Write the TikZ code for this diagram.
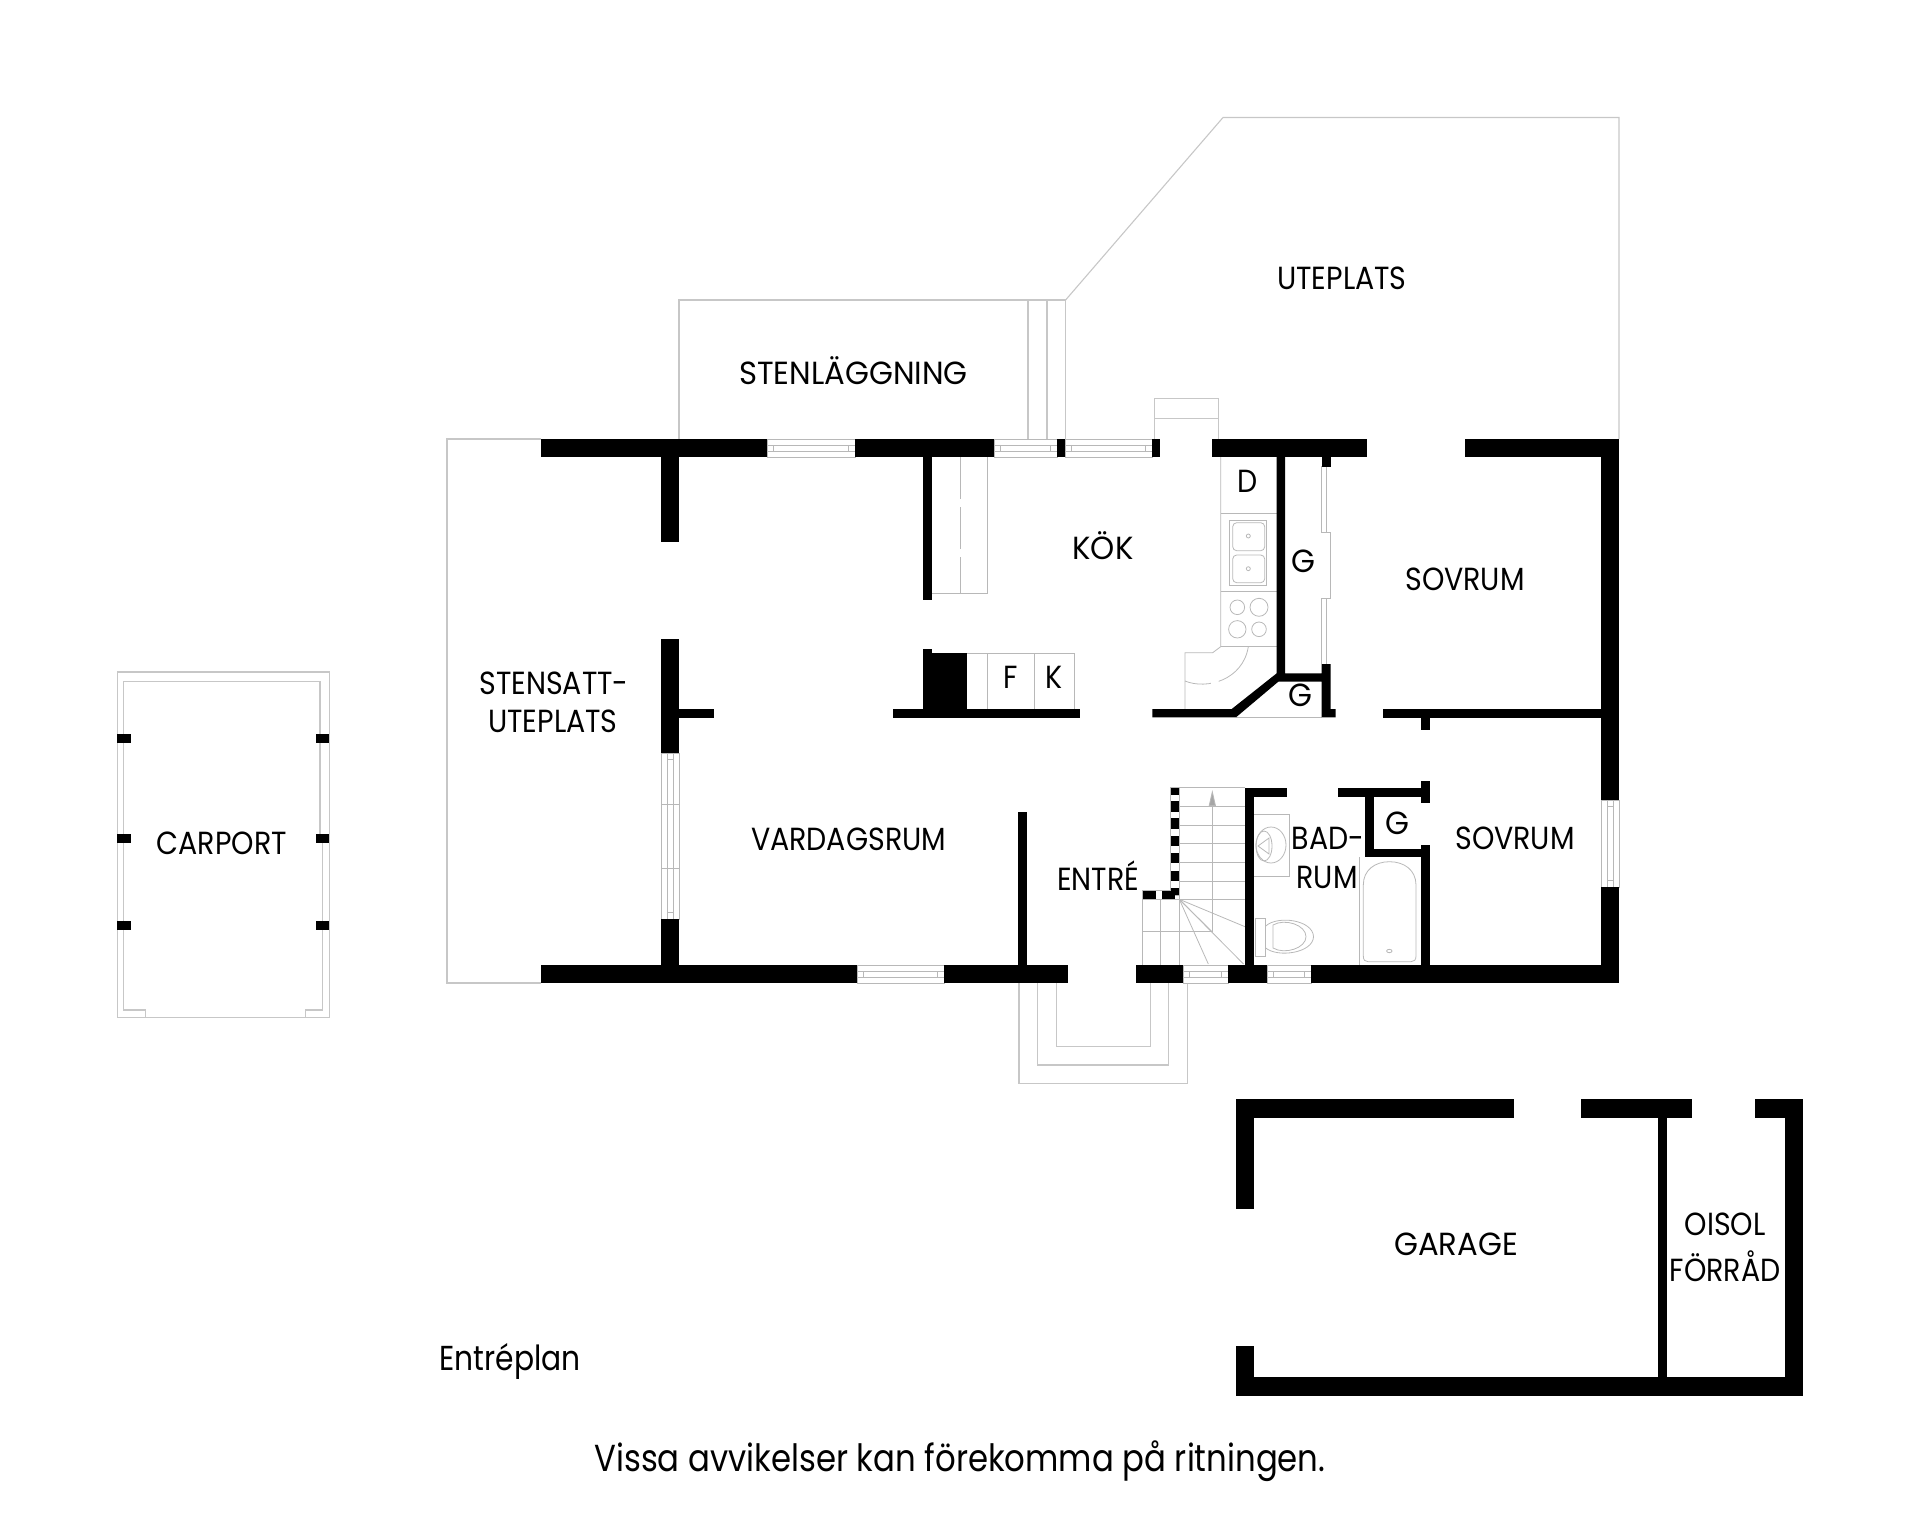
\documentclass[tikz,border=0pt]{standalone}
\usepackage{fontspec}
\setmainfont[FakeStretch=0.89]{Poppins}
\newfontfamily\widefont[FakeStretch=0.96]{Poppins}
\newfontfamily\planfont[FakeStretch=0.86]{Poppins}
\usetikzlibrary{arrows.meta}

\begin{document}
\begin{tikzpicture}[x=0.5pt,y=-0.5pt]

\tikzset{wall/.style = {fill=black}}
\tikzset{thin line/.style = {draw=black!22,line width=0.55pt}}
\tikzset{fine line/.style = {draw=black!28,line width=0.4pt}}
\tikzset{roomlabel/.style = {inner sep=0pt,anchor=base,font=\fontsize{16}{18}\selectfont}}
\tikzset{widelabel/.style = {inner sep=0pt,anchor=base,font=\widefont\fontsize{16}{18}\selectfont}}
\tikzset{planlabel/.style = {inner sep=0pt,anchor=base west,font=\planfont\fontsize{17.3}{20}\selectfont}}
\tikzset{notelabel/.style = {inner sep=0pt,anchor=base west,font=\planfont\fontsize{18.8}{22}\selectfont}}

\useasboundingbox (0,0) rectangle (1920,1513);

%terraces
\draw[thin line] (541,439) -- (447,439) -- (447,983) -- (541,983);
\draw[thin line] (679,439) -- (679,300) -- (1065.6,300) -- (1065.6,439);
\draw[thin line] (1028,300) -- (1028,439);
\draw[thin line] (1047,300) -- (1047,439);
\draw[thin line] (1065.6,300) -- (1223,117.5) -- (1619,117.5) -- (1619,439);
\draw[thin line] (1154.7,439) -- (1154.7,398.3) -- (1218.3,398.3) -- (1218.3,439);
\draw[thin line] (1154.7,418.3) -- (1218.3,418.3);
%porch
\draw[thin line] (1019,983) -- (1019,1083.7) -- (1187.7,1083.7) -- (1187.7,983);
\draw[thin line] (1037.7,983) -- (1037.7,1065) -- (1168.7,1065) -- (1168.7,983);
\draw[thin line] (1056.3,983) -- (1056.3,1046.7) -- (1150.3,1046.7) -- (1150.3,983);
%carport
\draw[thin line] (117.3,672) rectangle (329.3,1017.3);
\draw[thin line] (145.7,1017.3) -- (145.7,1010) -- (123.7,1010) -- (123.7,681.3) -- (320,681.3) -- (320,838) -- (322.7,838) -- (322.7,1010) -- (305.7,1010) -- (305.7,1017.3);
\foreach \ya in {734,834,921}{
  \fill[wall] (117.3,\ya) rectangle (130.7,\ya+8.7);
  \fill[wall] (316,\ya) rectangle (329.3,\ya+8.7);
}
%windows
\foreach \xa/\xb/\ya in {767/855/439,994/1057/439,1065/1152/439,857/944/965,1183/1228/965,1267/1311/965}{
  \draw[fine line] (\xa,\ya) rectangle (\xb,\ya+18.3);
  \draw[fine line] (\xa,\ya+6) -- (\xb,\ya+6);
  \draw[fine line] (\xa,\ya+12.5) -- (\xb,\ya+12.5);
  \draw[fine line] (\xa+6.5,\ya+6) -- (\xa+6.5,\ya+12.5);
  \draw[fine line] (\xb-6.5,\ya+6) -- (\xb-6.5,\ya+12.5);
}
\foreach \xa/\ya/\yb in {661/753/919,1601/800/887}{
  \draw[fine line] (\xa,\ya) rectangle (\xa+18.3,\yb);
  \draw[fine line] (\xa+6,\ya) -- (\xa+6,\yb);
  \draw[fine line] (\xa+12.5,\ya) -- (\xa+12.5,\yb);
  \draw[fine line] (\xa+6,\ya+6.5) -- (\xa+12.5,\ya+6.5);
  \draw[fine line] (\xa+6,\yb-6.5) -- (\xa+12.5,\yb-6.5);
}
\draw[fine line] (661,804) -- (679,804);
\draw[fine line] (661,868) -- (679,868);
%kitchen
\draw[fine line] (932,593.3) -- (987.7,593.3) -- (987.7,457);
\draw[fine line,dash pattern=on 21pt off 4pt] (960,457) -- (960,593.3);
\draw[fine line] (966.5,653) -- (1074.7,653) -- (1074.7,709);
\draw[fine line] (987.7,653) -- (987.7,709);
\draw[fine line] (1034.3,653) -- (1034.3,709);
\draw[fine line] (1220.7,457) -- (1220.7,646.7) -- (1212.7,652.7) -- (1185,652.7) -- (1185,709);
\draw[fine line] (1220.7,513.3) -- (1276.7,513.3);
\draw[fine line] (1220.7,591.7) -- (1276.7,591.7);
\draw[fine line] (1220.7,646) -- (1276.7,646);
\draw[fine line] (1229.7,520.3) rectangle (1266.7,585.3);
\draw[fine line,rounded corners=2pt] (1232.7,522.7) rectangle (1264.7,550.7);
\draw[fine line,rounded corners=2pt] (1232.7,555) rectangle (1264.7,582.7);
\draw[fine line] (1248.3,536) circle (2);
\draw[fine line] (1248.3,568.7) circle (2);
\draw[fine line] (1237.3,607.3) circle (7.3);
\draw[fine line] (1259,607.3) circle (9);
\draw[fine line] (1237.3,629.3) circle (8.7);
\draw[fine line] (1259,629.3) circle (7.3);
\draw[fine line,dash pattern=on 24pt off 4pt] (1248.3,646.7) .. controls (1243,680) and (1206.7,690) .. (1185,681);
\draw[fine line] (1236,717.3) -- (1321.7,717.3);
%closet doors
\draw[fine line] (1321.7,466) -- (1321.7,532.7) -- (1330.7,532.7) -- (1330.7,598) -- (1321.7,598) -- (1321.7,664);
\draw[fine line] (1326,466) -- (1326,532.7);
\draw[fine line] (1326,598) -- (1326,664);
%stairs
\draw[fine line] (1170.7,787.7) rectangle (1179.3,895);
\draw[fine line] (1142.7,890.7) rectangle (1179.3,899.3);
\draw[fine line] (1179.3,787.7) -- (1245,787.7);
\foreach \ya in {806,825,843.3,862.3,881,899.3}{
  \draw[fine line] (1179.3,\ya) -- (1245,\ya);
}
\foreach \xa in {1142.7,1160.7,1179.3}{
  \draw[fine line] (\xa,899.3) -- (\xa,965);
}
\draw[fine line] (1142.7,899.3) -- (1179.3,899.3);
\draw[fine line] (1142.7,931.7) -- (1212,931.7);
\draw[fine line] (1179.3,899.3) -- (1245,926.7);
\draw[fine line] (1179.3,899.3) -- (1212,931.7);
\draw[fine line] (1179.3,899.3) -- (1208.3,964);
\draw[fine line] (1179.3,899.3) -- (1243.5,964);
\draw[fine line,-{Triangle[length=8pt,width=3.5pt,fill=black!35]}] (1212.3,931.7) -- (1212.3,790);
%bathroom
\draw[fine line] (1254.3,814) -- (1289.3,814) -- (1289.3,876.7) -- (1254.3,876.7);
\draw[fine line] (1271,845) ellipse (15 and 18);
\draw[fine line] (1264,846) ellipse (8 and 15);
\draw[fine line] (1258,846) -- (1269,838) -- (1269,854) -- cycle;
\draw[fine line] (1255,918.3) rectangle (1265.7,956.7);
\draw[fine line] (1265.7,926) .. controls (1278,915) and (1313,920) .. (1313.5,936.7) .. controls (1313,953) and (1278,958) .. (1265.7,948);
\draw[fine line] (1273,925) .. controls (1285,918) and (1306,925) .. (1306,936.7) .. controls (1306,948) and (1285,955) .. (1273,948) -- cycle;
\draw[fine line] (1359.3,857.3) -- (1359.3,965);
\draw[fine line] (1363.3,885) .. controls (1363.3,870) and (1375,861.7) .. (1389.5,861.7) .. controls (1404,861.7) and (1416,870) .. (1416,885) -- (1416,956) .. controls (1416,960) and (1414,961.7) .. (1411,961.7) -- (1368,961.7) .. controls (1365,961.7) and (1363.3,960) .. (1363.3,956) -- cycle;
\draw[fine line] (1389.3,951) ellipse (2.7 and 1.7);
%walls
\foreach \xa/\xb/\ya/\yb in {
  541/767/439/457.3, 855/994/439/457.3, 1057/1065/439/457.3, 1152/1160/439/457.3,
  1212/1367/439/457.3, 1465/1619/439/457.3, 1601/1619/439/800, 1601/1619/887/983,
  541/857/965/983, 944/1067.5/965/983, 1136/1183/965/983, 1228/1267/965/983, 1311/1619/965/983,
  661/679.4/457/542, 661/679.4/639/753.3, 661/679.4/919/965, 679/714/708.5/717.7,
  923/932/457/600, 923/932/649/709, 932/966.5/653/709, 893.3/1080/708.7/717.7,
  1321.7/1330.7/457/466.7, 1383.3/1601/708.7/717.7, 1420.7/1430/717/730,
  1018/1027/812/965, 1245.3/1254.3/788/965, 1245.3/1286.7/788/796.7,
  1337.7/1421.7/788/796.7, 1421/1430/780.7/803.3, 1365/1374/796/857.3,
  1365/1430/848.7/857.3, 1421/1430/845/965,
  1236/1514/1099.3/1117.7, 1581/1691.5/1099.3/1117.7, 1755.4/1803/1099.3/1117.7,
  1785/1803/1099.3/1395.7, 1236/1254.4/1099.3/1208.7, 1236/1254.4/1346/1395.7,
  1236/1803/1377.3/1395.7, 1657.8/1666.6/1117/1378}{
  \fill[wall] (\xa,\yb) rectangle (\xb,\ya);
}
\fill[wall] (1152.3,709) -- (1231.7,709) -- (1276.7,673.3) -- (1276.7,457) -- (1285,457) -- (1285,673.3) -- (1321.7,673.3) -- (1321.7,664) -- (1330.7,664) -- (1330.7,709) -- (1335.7,709) -- (1335.7,717.3) -- (1321.7,717.3) -- (1321.7,681.7) -- (1278.3,681.7) -- (1236,717.3) -- (1152.3,717.3) -- cycle;
%stair wall
\foreach \ya/\yb in {788/794.7,800.7/812,818.3/829,836/846,853.3/863.3,871/880.7,888.3/895}{
  \fill[wall] (1170.7,\ya) rectangle (1179.3,\yb);
}
\fill[wall] (1142.7,890.7) rectangle (1155.7,899.3);
\fill[wall] (1161.7,890.7) rectangle (1175,899.3);
%labels
\node[roomlabel] (uteplats) at (1342,290) {UTEPLATS};
\node[widelabel] (stenlaggning) at (853.5,385) {STENLÄGGNING};
\node[roomlabel] (stensatt) at (554,694) {STENSATT-};
\node[roomlabel] (stenuteplats) at (553,732) {UTEPLATS};
\node[widelabel] (kok) at (1103,559) {KÖK};
\node[roomlabel] (dish) at (1247.7,493) {D};
\node[roomlabel] (sovrumA) at (1465,590.7) {SOVRUM};
\node[widelabel] (closetA) at (1303.3,572.7) {G};
\node[widelabel] (closetB) at (1300.5,706.7) {G};
\node[widelabel] (closetC) at (1397.3,834) {G};
\node[roomlabel] (fridge) at (1010.7,688) {F};
\node[roomlabel] (freezer) at (1054,688) {K};
\node[roomlabel] (vardagsrum) at (848.6,850) {VARDAGSRUM};
\node[roomlabel] (entre) at (1098,890.7) {ENTRÉ};
\node[roomlabel] (bad) at (1328,849.3) {BAD-};
\node[roomlabel] (rum) at (1327,888) {RUM};
\node[roomlabel] (sovrumB) at (1515,849) {SOVRUM};
\node[roomlabel] (carport) at (221.7,854) {CARPORT};
\node[widelabel] (garage) at (1456,1255) {GARAGE};
\node[roomlabel] (oisol) at (1725,1235.7) {OISOL};
\node[roomlabel] (forrad) at (1725,1281.7) {FÖRRÅD};
\node[planlabel] (entreplan) at (439,1370) {Entréplan};
\node[notelabel] (vissa) at (594,1471) {Vissa avvikelser kan förekomma på ritningen.};

\end{tikzpicture}
\end{document}
